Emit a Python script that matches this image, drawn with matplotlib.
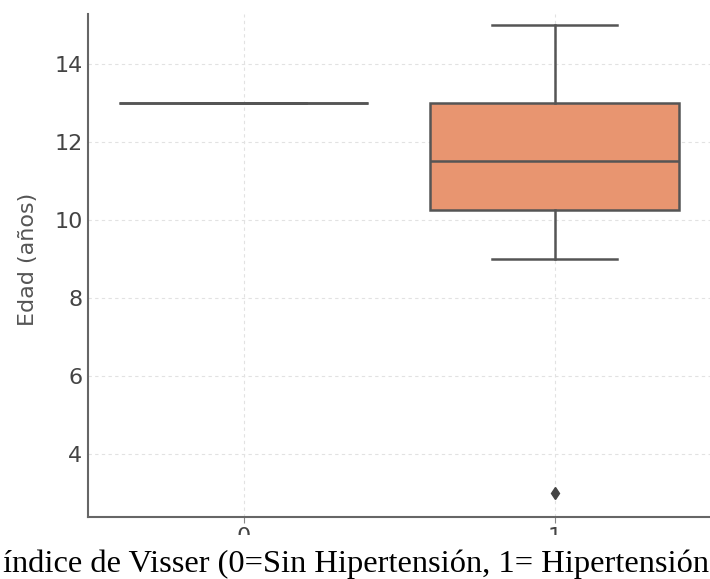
import numpy as np
import matplotlib
matplotlib.use("Agg")
import matplotlib.pyplot as plt
from matplotlib.patches import Rectangle

# edades por grupo del indice de Visser
groups = ["0", "1"]
edad_sin_hta = [13, 13]
edad_hta = [3, 9, 10, 11, 11, 12, 13, 13, 14, 15]
yticks = [4, 6, 8, 10, 12, 14]

box_colors = ["#7fb79f", "#e89570"]
line_col = "#555555"

fig = plt.figure(figsize=(7.1, 5.79), dpi=100)
ax = fig.add_axes([88/710, (579-517)/579, (710-88)/710, (517-14)/579])

bp = ax.boxplot([edad_sin_hta, edad_hta], positions=[0, 1], widths=0.8,
                patch_artist=True, whis=1.5,
                boxprops=dict(edgecolor=line_col, linewidth=1.8),
                medianprops=dict(color=line_col, linewidth=1.8),
                whiskerprops=dict(color=line_col, linewidth=1.8),
                capprops=dict(color=line_col, linewidth=1.8),
                flierprops=dict(marker="d", markerfacecolor="#444444",
                                markeredgecolor="#444444", markersize=6))
for patch, c in zip(bp["boxes"], box_colors):
    patch.set_facecolor(c)

ax.set_xlim(-0.5, 1.5)
ax.set_ylim(2.385, 15.28)
ax.set_xticks([0, 1])
ax.set_xticklabels(groups)
ax.set_yticks(yticks)

ax.grid(True, color="#e2e2e2", linestyle=(0, (3, 3)), linewidth=0.8)
ax.set_axisbelow(True)
for s in ["top", "right"]:
    ax.spines[s].set_visible(False)
for s in ["left", "bottom"]:
    ax.spines[s].set_color("#666666")
    ax.spines[s].set_linewidth(1.5)

ax.tick_params(axis="y", length=0, pad=4, labelsize=16, labelcolor="#444444")
ax.tick_params(axis="x", length=4, pad=3, labelsize=16, labelcolor="#444444",
               color="#888888")
ax.set_ylabel("Edad (años)", fontsize=16, color="#555555")
ax.yaxis.set_label_coords(-0.080, 0.513)

# franja blanca del pie de figura
fig.patches.append(Rectangle((0, 0), 1, (579-535)/579, transform=fig.transFigure,
                             facecolor="white", edgecolor="none", zorder=2))
fig.text(0.501, 7/579, "índice de Visser (0=Sin Hipertensión, 1= Hipertensión",
         ha="center", va="baseline", fontsize=23.4, family="Liberation Serif",
         color="black", zorder=3)

fig.savefig("out.png", dpi=100)
